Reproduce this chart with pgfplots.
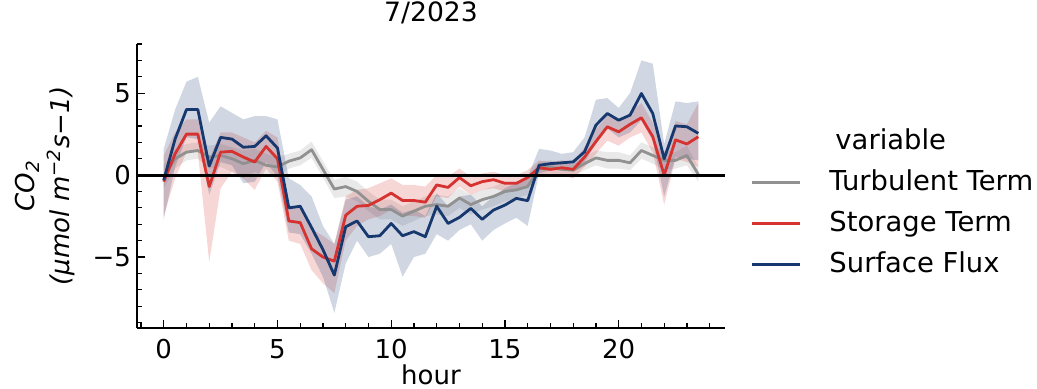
\documentclass[border=0pt]{standalone}
\usepackage{fontspec}
\setmainfont{DejaVu Sans}
\usepackage{pgfplots}
\pgfplotsset{compat=1.18}
\usepackage{pgfplotstable}
\usepgfplotslibrary{fillbetween}

\definecolor{cgray}{RGB}{145,145,145}
\definecolor{cred}{RGB}{213,50,48}
\definecolor{cblue}{RGB}{22,56,110}

% Turbulent Term
\pgfplotstableread{
h y lo hi
0.0 -0.1 -0.8 0.6
0.5 1.0 0.4 1.6
1.0 1.4 0.9 1.9
1.5 1.5 1.0 2.0
2.0 1.1 0.4 1.8
2.5 1.2 0.5 1.9
3.0 1.0 0.2 1.7
3.5 0.7 -0.2 1.5
4.0 0.9 0.2 1.6
4.5 0.6 -0.1 1.3
5.0 0.5 -0.1 1.1
5.5 0.85 0.4 1.3
6.0 1.05 0.6 1.5
6.5 1.55 1.05 2.05
7.0 0.35 -0.15 0.85
7.5 -0.85 -1.4 -0.3
8.0 -0.7 -1.3 -0.1
8.5 -1.0 -1.6 -0.4
9.0 -1.6 -2.2 -1.0
9.5 -2.1 -2.7 -1.5
10.0 -2.1 -2.7 -1.5
10.5 -2.5 -3.1 -1.9
11.0 -2.2 -2.8 -1.6
11.5 -1.9 -2.5 -1.3
12.0 -1.8 -2.4 -1.2
12.5 -1.9 -2.5 -1.3
13.0 -1.4 -2.0 -0.8
13.5 -1.8 -2.4 -1.2
14.0 -1.5 -2.1 -0.9
14.5 -1.3 -1.9 -0.7
15.0 -1.0 -1.6 -0.4
15.5 -0.9 -1.4 -0.4
16.0 -0.7 -1.2 -0.2
16.5 0.4 0.0 0.8
17.0 0.5 0.1 0.9
17.5 0.35 0.0 0.7
18.0 0.3 -0.1 0.7
18.5 0.7 0.3 1.1
19.0 1.05 0.6 1.5
19.5 0.9 0.4 1.4
20.0 0.9 0.4 1.4
20.5 0.75 0.3 1.2
21.0 1.5 1.0 2.0
21.5 1.2 0.7 1.7
22.0 0.9 0.3 1.5
22.5 0.9 0.4 1.4
23.0 1.2 0.6 1.8
23.5 0.05 -0.4 0.5
}\tturb

% Storage Term
\pgfplotstableread{
h y lo hi
0.0 -0.4 -2.5 1.2
0.5 1.3 -0.2 2.6
1.0 2.5 1.4 3.4
1.5 2.5 1.4 3.4
2.0 -0.7 -5.3 1.0
2.5 1.4 -0.8 2.6
3.0 1.45 0.2 2.6
3.5 1.1 -0.2 2.3
4.0 0.8 -0.9 2.0
4.5 1.75 0.4 2.7
5.0 1.0 -0.4 2.3
5.5 -2.8 -4.0 -1.9
6.0 -2.9 -4.2 -2.0
6.5 -4.5 -5.8 -3.3
7.0 -5.0 -6.6 -3.7
7.5 -5.25 -7.2 -4.2
8.0 -2.45 -4.0 -1.3
8.5 -1.9 -3.1 -0.9
9.0 -1.85 -2.7 -0.8
9.5 -1.5 -2.5 -0.5
10.0 -1.1 -2.1 -0.2
10.5 -1.55 -2.5 -0.6
11.0 -1.55 -2.5 -0.6
11.5 -1.65 -2.6 -0.7
12.0 -0.6 -1.3 0.0
12.5 -0.75 -1.4 -0.1
13.0 -0.15 -0.7 0.4
13.5 -0.65 -1.2 -0.1
14.0 -0.4 -0.9 0.1
14.5 -0.28 -0.8 0.2
15.0 -0.5 -1.0 0.0
15.5 -0.5 -1.0 0.0
16.0 -0.15 -0.6 0.3
16.5 0.45 0.0 0.9
17.0 0.35 -0.1 0.8
17.5 0.45 0.0 0.9
18.0 0.35 -0.2 0.8
18.5 1.1 0.5 1.7
19.0 2.05 1.3 2.8
19.5 2.95 2.1 3.6
20.0 2.64 1.8 3.3
20.5 3.1 2.3 3.8
21.0 3.5 2.6 4.4
21.5 2.34 1.4 3.2
22.0 0.0 -1.8 1.3
22.5 2.15 1.0 3.3
23.0 1.9 0.8 3.1
23.5 2.34 0.5 4.4
}\tstor

% Surface Flux
\pgfplotstableread{
h y lo hi
0.0 -0.3 -2.7 1.6
0.5 2.2 0.5 4.0
1.0 4.0 2.3 5.7
1.5 4.0 2.2 6.0
2.0 0.55 -1.2 3.2
2.5 2.3 0.8 4.2
3.0 2.2 0.6 3.8
3.5 1.7 -0.5 3.4
4.0 1.75 -0.4 3.6
4.5 2.4 0.8 3.6
5.0 1.65 -0.1 3.4
5.5 -2.0 -3.5 -0.2
6.0 -1.9 -3.6 -0.6
6.5 -3.2 -4.8 -1.3
7.0 -4.55 -6.2 -3.1
7.5 -6.1 -8.4 -4.2
8.0 -3.15 -5.4 -1.5
8.5 -2.8 -4.0 -1.3
9.0 -3.76 -5.0 -1.9
9.5 -3.7 -4.8 -2.1
10.0 -2.95 -4.2 -1.8
10.5 -3.7 -6.2 -2.3
11.0 -3.45 -5.0 -2.1
11.5 -3.76 -4.8 -2.5
12.0 -1.9 -3.6 -1.1
12.5 -2.95 -4.0 -1.9
13.0 -2.58 -3.35 -1.3
13.5 -2.03 -3.0 -1.2
14.0 -2.7 -4.0 -1.9
14.5 -2.13 -3.35 -1.3
15.0 -1.83 -2.95 -0.8
15.5 -1.42 -2.6 -0.5
16.0 -1.56 -3.1 -0.1
16.5 0.6 0.1 1.6
17.0 0.7 0.3 1.5
17.5 0.75 0.3 1.3
18.0 0.81 0.3 1.4
18.5 1.42 0.8 2.3
19.0 3.05 1.9 4.6
19.5 3.76 2.85 4.7
20.0 3.35 2.3 4.1
20.5 3.66 2.6 5.0
21.0 4.98 3.35 7.0
21.5 3.76 2.1 6.8
22.0 1.0 -1.3 1.9
22.5 3.0 1.1 4.5
23.0 2.95 1.0 4.4
23.5 2.55 0.9 4.5
}\tsurf

\begin{document}
\fontsize{13}{17.5}\selectfont
\begin{tikzpicture}
\begin{axis}[
  at={(0,0)}, anchor=south west,
  scale only axis, width=294pt, height=142pt,
  xmin=-1.175, xmax=24.675, ymin=-9.33, ymax=8,
  axis x line*=bottom, axis y line*=left,
  x axis line style={-, line width=0.6pt},
  y axis line style={-, line width=0.6pt},
  tick align=inside,
  xtick={0,5,10,15,20}, xticklabels={0,5,10,15,20},
  ytick={-5,0,5}, yticklabels={−5,0,5},
  minor xtick={-1,1,2,3,4,6,7,8,9,11,12,13,14,16,17,18,19,21,22,23,24},
  minor ytick={-9,-8,-7,-6,-4,-3,-2,-1,1,2,3,4,6,7,8},
  major tick length=4pt, minor tick length=2.5pt,
  every tick/.style={black, line width=0.6pt},
  tick label style={font=\fontsize{13}{15}\selectfont},
  xticklabel style={yshift=-1pt},
  yticklabel style={xshift=1.5pt},
  title={7/2023},
  title style={at={(axis description cs:0.5,1)}, anchor=center, yshift=9.5pt, font=\fontsize{13.3}{15}\selectfont},
  xlabel={hour},
  xlabel style={at={(axis description cs:0.5,0)}, anchor=base, yshift=-28.3pt, font=\fontsize{13}{15}\selectfont},
  ylabel={{\itshape CO\textsubscript{2}}\\{\itshape (µmol m\textsuperscript{−2}s−1)}},
  ylabel style={at={(axis description cs:-0.157,0.5)}, anchor=center, align=center, font=\fontsize{13}{17.5}\selectfont},
  legend cell align=left,
  legend style={at={(axis description cs:1.043,0.44)}, anchor=west, draw=none, fill=none,
    inner sep=0pt, row sep=7pt, column sep=14pt,
    nodes={text height=10.5pt, text depth=3pt, inner sep=0pt},
    font=\fontsize{13.7}{16}\selectfont},
  legend image code/.code={\draw[#1, line width=1.4pt] (0pt,0pt) -- (24pt,0pt);},
]
\addlegendimage{empty legend}
\addlegendentry{\hspace{3pt}variable}

% bands
\addplot[draw=none, name path=gU, forget plot] table[x=h, y=hi]{\tturb};
\addplot[draw=none, name path=gL, forget plot] table[x=h, y=lo]{\tturb};
\addplot[fill=cgray, fill opacity=0.2, draw=none, forget plot] fill between[of=gU and gL];

\addplot[draw=none, name path=rU, forget plot] table[x=h, y=hi]{\tstor};
\addplot[draw=none, name path=rL, forget plot] table[x=h, y=lo]{\tstor};
\addplot[fill=cred, fill opacity=0.2, draw=none, forget plot] fill between[of=rU and rL];

\addplot[draw=none, name path=bU, forget plot] table[x=h, y=hi]{\tsurf};
\addplot[draw=none, name path=bL, forget plot] table[x=h, y=lo]{\tsurf};
\addplot[fill=cblue, fill opacity=0.2, draw=none, forget plot] fill between[of=bU and bL];

% lines
\addplot[cgray, line width=1.4pt, line join=round, no markers] table[x=h, y=y]{\tturb};
\addlegendentry{Turbulent Term}
\addplot[cred, line width=1.4pt, line join=round, no markers] table[x=h, y=y]{\tstor};
\addlegendentry{Storage Term}
\addplot[cblue, line width=1.4pt, line join=round, no markers] table[x=h, y=y]{\tsurf};
\addlegendentry{Surface Flux}

\addplot[black, line width=1.5pt, forget plot] coordinates {(-1.175,0) (24.675,0)};
\end{axis}
\pgfresetboundingbox
\useasboundingbox (-68.5pt,-30pt) rectangle (450pt,164pt);
\end{tikzpicture}
\end{document}
